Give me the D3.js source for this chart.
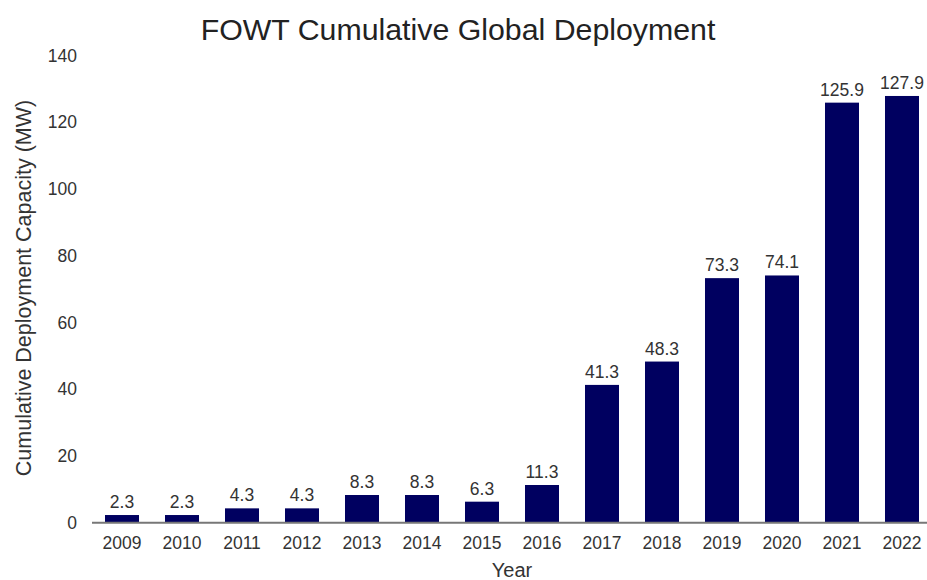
<!DOCTYPE html>
<html>
<head>
<meta charset="utf-8">
<script src="https://cdn.jsdelivr.net/npm/d3@7"></script>
<style>
  html, body { margin: 0; padding: 0; background: #fff; }
  svg { display: block; }
  svg text { font-family: Arial, "Liberation Sans", Helvetica, sans-serif; }
</style>
</head>
<body>
<svg id="chart" width="927" height="580"></svg>
<script>
// Cumulative floating offshore wind capacity by year (MW)
const years = ["2009", "2010", "2011", "2012", "2013", "2014", "2015",
               "2016", "2017", "2018", "2019", "2020", "2021", "2022"];
const capacity = [2.3, 2.3, 4.3, 4.3, 8.3, 8.3, 6.3,
                  11.3, 41.3, 48.3, 73.3, 74.1, 125.9, 127.9];
const yTicks = [0, 20, 40, 60, 80, 100, 120, 140];

const svg = d3.select("#chart");
const textColor = "#333";
const barColor = "#000060";

const x = d3.scaleBand()
  .domain(years)
  .range([92, 932])
  .paddingInner(0.4333)
  .paddingOuter(0.2167);

const y = d3.scaleLinear()
  .domain([0, 140])
  .range([522.7, 55.6]);

// Title
svg.append("text")
  .attr("x", 458)
  .attr("y", 40)
  .attr("text-anchor", "middle")
  .attr("font-size", 30.3)
  .attr("fill", "#222")
  .text("FOWT Cumulative Global Deployment");

// Y axis: labels only
const yAxis = svg.append("g")
  .attr("transform", "translate(77,0)")
  .call(d3.axisLeft(y).tickValues(yTicks).tickSize(0).tickPadding(0));
yAxis.select(".domain").remove();
yAxis.attr("font-family", null);
yAxis.selectAll("text")
  .attr("font-size", 17.5)
  .attr("fill", textColor);

// Bars
svg.append("g")
  .selectAll("rect")
  .data(years)
  .join("rect")
  .attr("x", d => x(d))
  .attr("width", x.bandwidth())
  .attr("y", (d, i) => y(capacity[i]))
  .attr("height", (d, i) => y(0) - y(capacity[i]))
  .attr("fill", barColor);

// Value labels
svg.append("g")
  .selectAll("text")
  .data(years)
  .join("text")
  .attr("x", d => x(d) + x.bandwidth() / 2)
  .attr("y", (d, i) => y(capacity[i]) - 7)
  .attr("text-anchor", "middle")
  .attr("font-size", 17.5)
  .attr("fill", textColor)
  .text((d, i) => capacity[i].toFixed(1));

// X axis with baseline
const xAxis = svg.append("g")
  .attr("transform", `translate(0,${y(0)})`)
  .call(d3.axisBottom(x).tickSize(0).tickPadding(14));
xAxis.attr("font-family", null);
xAxis.select(".domain")
  .attr("d", "M92,0H927")
  .attr("stroke", "#777")
  .attr("stroke-width", 2);
xAxis.selectAll("text")
  .attr("font-size", 17.5)
  .attr("fill", textColor);

// Axis titles
svg.append("text")
  .attr("x", 512)
  .attr("y", 577)
  .attr("text-anchor", "middle")
  .attr("font-size", 20)
  .attr("fill", textColor)
  .text("Year");

svg.append("text")
  .attr("transform", "translate(31,288) rotate(-90)")
  .attr("text-anchor", "middle")
  .attr("font-size", 21.5)
  .attr("fill", textColor)
  .text("Cumulative Deployment Capacity (MW)");
</script>
</body>
</html>
